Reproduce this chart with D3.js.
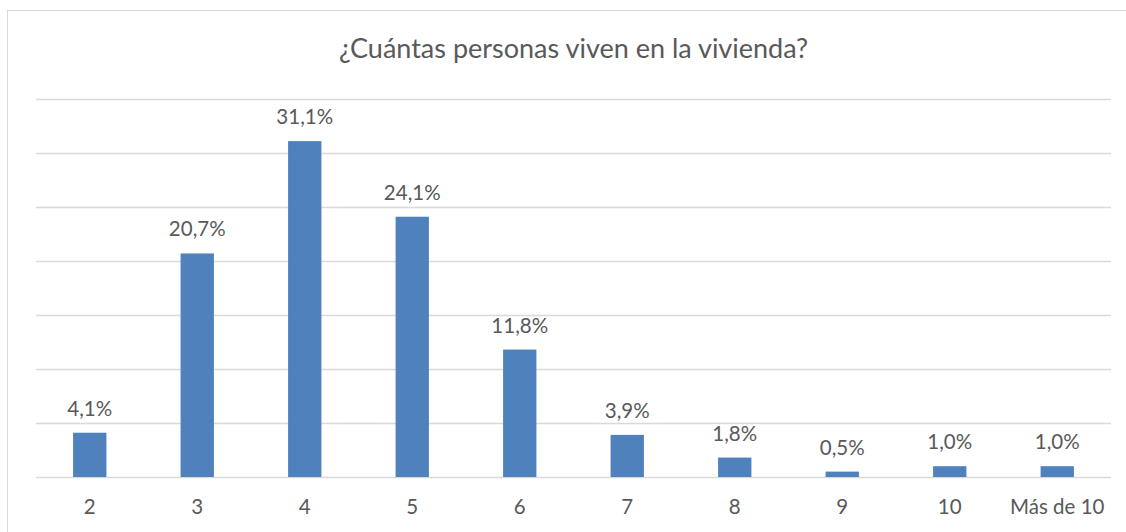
<!DOCTYPE html>
<html>
<head>
<meta charset="utf-8">
<script src="https://cdn.jsdelivr.net/npm/d3@7"></script>
<style>
  body { margin: 0; background: #fff; }
  text { font-family: Lato, "Open Sans", sans-serif; fill: #595959; }
</style>
</head>
<body>
<svg width="1126" height="532"></svg>
<script>
// chart data
const categories = ["2", "3", "4", "5", "6", "7", "8", "9", "10", "Más de 10"];
const shares     = [4.1, 20.7, 31.1, 24.1, 11.8, 3.9, 1.8, 0.5, 1.0, 1.0];
const gridTicks  = [0, 5, 10, 15, 20, 25, 30, 35];
const title      = "¿Cuántas personas viven en la vivienda?";

let svg    = d3.select("svg"),
    margin = {left: 36, right: 15, top: 99, bottom: 55},
    width  = 1126 - margin.left - margin.right,
    height = 532 - margin.top - margin.bottom;

// outer chart frame
svg.append("rect")
  .attr("x", 7.5).attr("y", 10.5)
  .attr("width", 1130).attr("height", 540)
  .attr("fill", "none")
  .attr("stroke", "#d9d9d9");

let g = svg.append("g")
  .attr("transform", `translate(${margin.left},${margin.top})`);

let x = d3.scaleBand()
  .domain(categories)
  .range([0, width])
  .paddingInner(0.69)
  .paddingOuter(0.345);

let y = d3.scaleLinear()
  .domain([0, 35])
  .range([height, 0]);

// horizontal gridlines
g.selectAll(".grid")
  .data(gridTicks)
  .enter().append("line")
    .attr("class", "grid")
    .attr("x1", 0).attr("x2", width)
    .attr("y1", d => Math.round(y(d)) + 0.5)
    .attr("y2", d => Math.round(y(d)) + 0.5)
    .attr("stroke", "#d9d9d9")
    .attr("stroke-width", 1.3);

// bars
g.selectAll(".bar")
  .data(shares)
  .enter().append("rect")
    .attr("class", "bar")
    .attr("x", (d, i) => x(categories[i]))
    .attr("width", x.bandwidth())
    .attr("y", d => y(d))
    .attr("height", d => y(0) - y(d))
    .attr("fill", "#4f81bd");

// value labels
g.selectAll(".value")
  .data(shares)
  .enter().append("text")
    .attr("class", "value")
    .attr("x", (d, i) => x(categories[i]) + x.bandwidth() / 2)
    .attr("y", d => y(d) - 17)
    .attr("text-anchor", "middle")
    .style("font-size", "20.5px")
    .text(d => d.toFixed(1).replace(".", ",") + "%");

// category axis
let xAxis = g.append("g")
  .attr("transform", `translate(0,${height})`)
  .call(d3.axisBottom(x).tickSize(0).tickPadding(22));
xAxis.select(".domain").remove();
xAxis.selectAll("text")
  .style("font-size", "20.5px")
  .attr("fill", "#595959")
  .style("font-family", "Lato, 'Open Sans', sans-serif");

// title
svg.append("text")
  .attr("x", margin.left + width / 2)
  .attr("y", 58)
  .attr("text-anchor", "middle")
  .style("font-size", "27px")
  .text(title);
</script>
</body>
</html>
